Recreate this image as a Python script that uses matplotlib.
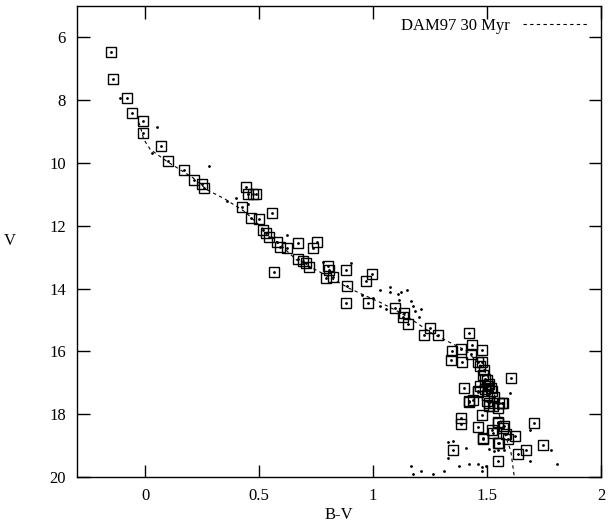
import matplotlib
matplotlib.use("Agg")
import matplotlib.pyplot as plt

plt.rcParams['font.family'] = ['Liberation Serif', 'DejaVu Serif']

# Observed stars (squares)
bv_obs = [-0.150, -0.141, -0.080, -0.060, -0.010, -0.010, 0.069, 0.099, 0.169, 0.213,
          0.248, 0.258, 0.442, 0.452, 0.474, 0.484, 0.423, 0.556, 0.464, 0.499,
          0.518, 0.530, 0.544, 0.579, 0.591, 0.624, 0.671, 0.754, 0.736, 0.564,
          0.672, 0.692, 0.704, 0.717, 0.803, 0.806, 0.792, 0.824, 0.882, 0.993,
          0.967, 0.887, 0.881, 0.978, 1.095, 1.136, 1.133, 1.155, 1.251, 1.225,
          1.286, 1.422, 1.346, 1.385, 1.432, 1.476, 1.341, 1.392, 1.429, 1.461,
          1.487, 1.400, 1.607, 1.480, 1.500, 1.510, 1.490, 1.520, 1.460, 1.470,
          1.530, 1.500, 1.422, 1.440, 1.500, 1.510, 1.568, 1.550, 1.476, 1.387,
          1.387, 1.458, 1.483, 1.527, 1.550, 1.550, 1.570, 1.582, 1.622, 1.590,
          1.706, 1.672, 1.637, 1.747, 1.349, 1.546, 1.480, 1.520, 1.477, 1.470,
          1.492, 1.517, 1.509, 1.524, 1.553, 1.567, 1.546, 1.575, 1.458, 1.502,
          1.419, 1.553]
v_obs = [6.46, 7.33, 7.94, 8.41, 8.65, 9.04, 9.45, 9.94, 10.21, 10.53,
         10.67, 10.80, 10.77, 10.98, 10.98, 10.98, 11.39, 11.60, 11.76, 11.78,
         12.14, 12.24, 12.37, 12.53, 12.67, 12.72, 12.54, 12.51, 12.70, 13.47,
         13.07, 13.13, 13.20, 13.31, 13.29, 13.41, 13.65, 13.63, 13.41, 13.54,
         13.77, 13.92, 14.46, 14.45, 14.62, 14.78, 14.91, 15.14, 15.25, 15.47,
         15.49, 15.42, 16.00, 15.92, 15.79, 15.94, 16.27, 16.33, 16.08, 16.33,
         16.59, 17.17, 16.86, 16.75, 16.90, 17.05, 17.20, 17.25, 17.25, 17.10,
         17.45, 17.40, 17.57, 17.55, 17.57, 17.73, 17.63, 17.81, 18.03, 18.11,
         18.30, 18.41, 18.75, 18.61, 18.24, 18.91, 18.43, 18.64, 18.69, 18.80,
         18.29, 19.14, 19.28, 18.99, 19.15, 19.50, 18.80, 18.50, 16.33, 16.45,
         16.88, 17.15, 17.63, 17.73, 17.63, 17.63, 18.27, 18.38, 17.28, 17.10,
         17.60, 18.91]

# Additional faint points (small dots)
bv_dots = [-0.110, 0.051, 0.029, 0.280, 0.400, 0.450, 0.360, 0.904, 0.780, 0.620,
           1.032, 1.072, 1.075, 1.108, 1.123, 1.149, 1.112, 1.168, 1.176, 1.185,
           1.203, 1.057, 1.030, 1.210, 1.000, 0.950,
           1.167, 1.210, 1.261, 1.175, 1.378, 1.422, 1.458, 1.477, 1.510, 1.530,
           1.550, 1.575, 1.407, 1.330, 1.349, 1.808, 1.779, 1.688, 1.600, 1.687,
           1.495, 1.477, 1.330, 1.310]
v_dots = [7.93, 8.86, 9.68, 10.09, 11.10, 11.30, 11.20, 13.20, 13.15, 12.30,
          14.03, 13.95, 14.11, 14.16, 14.12, 14.05, 14.35, 14.40, 14.57, 14.70,
          14.91, 14.64, 14.55, 14.65, 14.30, 14.20,
          19.65, 19.81, 19.92, 19.92, 19.65, 19.60, 19.60, 19.68, 19.12, 19.17,
          19.13, 19.15, 19.07, 19.40, 18.85, 19.60, 19.15, 19.50, 17.31, 18.49,
          19.66, 19.80, 18.90, 19.80]

# DAM97 30 Myr isochrone
iso_bv = [-0.030, -0.022, -0.007, 0.022, 0.095, 0.211, 0.270, 0.350, 0.437, 0.532,
          0.664, 0.766, 0.897, 1.028, 1.115, 1.174, 1.261, 1.305, 1.360, 1.407,
          1.466, 1.502, 1.528, 1.546, 1.568, 1.604, 1.619]
iso_v = [8.70, 8.83, 9.25, 9.57, 9.95, 10.48, 10.85, 11.15, 11.55, 12.20,
         13.09, 13.47, 14.00, 14.43, 14.75, 15.01, 15.44, 15.60, 15.80, 15.97,
         16.40, 16.77, 17.25, 17.79, 18.43, 19.17, 19.97]

fig = plt.figure(figsize=(6.08, 5.29), dpi=100)
ax = fig.add_axes([0.1266, 0.0983, 0.8619, 0.8904])

ax.plot(bv_obs, v_obs, linestyle='none', marker='s', markersize=7.5,
        markerfacecolor='none', markeredgecolor='black', markeredgewidth=1.0)
ax.plot(bv_obs, v_obs, linestyle='none', marker='o', markersize=1.0,
        color='black')
ax.plot(bv_dots, v_dots, linestyle='none', marker='o', markersize=1.0,
        color='black')
ax.plot(iso_bv, iso_v, color='black', linewidth=0.8, linestyle=(0, (3, 3)),
        label='DAM97 30 Myr')

ax.set_xlim(-0.3, 2.0)
ax.set_ylim(20, 5)
ax.set_xticks([0, 0.5, 1, 1.5, 2])
ax.set_xticklabels(['0', '0.5', '1', '1.5', '2'])
ax.set_yticks([6, 8, 10, 12, 14, 16, 18, 20])
ax.tick_params(direction='in', length=9, width=1, top=True, right=True,
               labelsize=12, pad=8)
for s in ax.spines.values():
    s.set_linewidth(1.0)

ax.set_xlabel('B-V', fontsize=12, labelpad=2)
ax.set_ylabel('V', fontsize=12, rotation=0, labelpad=28, va='center')

leg = ax.legend(loc='upper right', frameon=False, markerfirst=False,
                fontsize=12, handlelength=4, borderaxespad=0.3)

fig.savefig('out.png', dpi=100)
